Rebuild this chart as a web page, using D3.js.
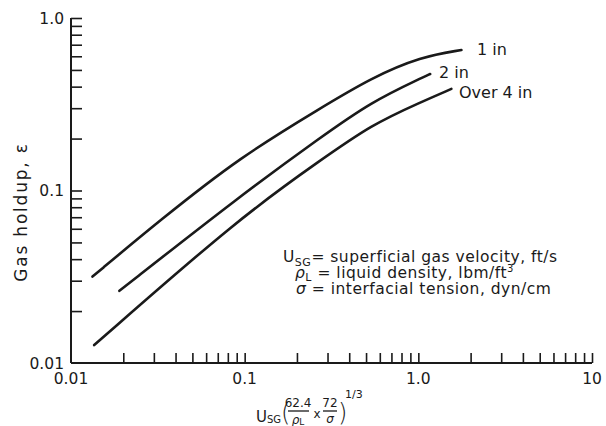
<!DOCTYPE html>
<html>
<head>
<meta charset="utf-8">
<script src="https://cdn.jsdelivr.net/npm/d3@7"></script>
<style>
  html, body { margin: 0; padding: 0; background: #fff; }
  svg text { font-family: "DejaVu Sans", sans-serif; fill: #1a1a1a; }
</style>
</head>
<body>
<svg id="chart" width="606" height="426"></svg>
<script>
// ---- data ----
const seriesNames = ["1 in", "2 in", "Over 4 in"];
const x1in = [0.0133, 0.0327, 0.0948, 0.275, 0.535, 1.04, 1.77];
const y1in = [0.0317, 0.0675, 0.157, 0.301, 0.449, 0.597, 0.652];
const x2in = [0.0190, 0.0948, 0.275, 0.535, 1.04, 1.17];
const y2in = [0.0262, 0.0935, 0.204, 0.326, 0.449, 0.4735];
const x4in = [0.0136, 0.0948, 0.275, 0.535, 1.04, 1.55];
const y4in = [0.0127, 0.0705, 0.150, 0.240, 0.326, 0.388];
const xTickLabels = ["0.01", "0.1", "1.0", "10"];
const xTickValues = [0.01, 0.1, 1, 10];
const yTickLabels = ["0.01", "0.1", "1.0"];
const yTickValues = [0.01, 0.1, 1];

const svg = d3.select("#chart");
const x = d3.scaleLog().domain([0.01, 10]).range([71, 592]);
const y = d3.scaleLog().domain([0.01, 1]).range([363, 18]);
const ink = "#1a1a1a";

// minor tick values
const xMinor = [];
[0.01, 0.1, 1].forEach(d => { for (let k = 1; k <= 9; k++) xMinor.push(d * k); });
xMinor.push(10);
const yMinor = [];
[0.01, 0.1].forEach(d => { for (let k = 1; k <= 9; k++) yMinor.push(d * k); });
yMinor.push(1);

// axes lines + inward ticks via d3 axes
const gx = svg.append("g").attr("transform", `translate(0,${y(0.01)})`)
  .call(d3.axisTop(x).tickValues(xMinor).tickSize(10).tickFormat(""));
const gy = svg.append("g").attr("transform", `translate(${x(0.01)},0)`)
  .call(d3.axisRight(y).tickValues(yMinor).tickSize(11).tickFormat(""));
[gx, gy].forEach(g => {
  g.select(".domain").attr("stroke", ink).attr("stroke-width", 2);
  g.selectAll(".tick line").attr("stroke", ink).attr("stroke-width", 1.6);
});
gy.select(".domain").attr("d", `M0,${y(1)}V${y(0.01)}`);
gx.select(".domain").attr("d", `M${x(0.01)},0H${x(10)}`);
gx.selectAll(".tick").filter(d => d === 0.01).remove();
gy.selectAll(".tick").filter(d => d === 0.01).remove();

// tick labels
svg.append("g").selectAll("text").data(xTickValues).join("text")
  .attr("x", d => x(d)).attr("y", 384)
  .attr("text-anchor", "middle").attr("font-size", 15.5)
  .text((d, i) => xTickLabels[i]);
svg.append("g").selectAll("text").data(yTickValues).join("text")
  .attr("x", 64).attr("y", d => y(d) + 5.5)
  .attr("text-anchor", "end").attr("font-size", 15.5)
  .text((d, i) => yTickLabels[i]);

// curves
const line = d3.line().x(d => x(d[0])).y(d => y(d[1])).curve(d3.curveBasis);
const series = [
  { xs: x1in, ys: y1in },
  { xs: x2in, ys: y2in },
  { xs: x4in, ys: y4in }
];
series.forEach(s => {
  svg.append("path").datum(s.xs.map((v, i) => [v, s.ys[i]]))
    .attr("d", line).attr("fill", "none")
    .attr("stroke", ink).attr("stroke-width", 2.6).attr("stroke-linecap", "round");
});

// curve labels
const labelPos = [[477, 55], [439, 78], [459, 98]];
seriesNames.forEach((n, i) => {
  svg.append("text").attr("x", labelPos[i][0]).attr("y", labelPos[i][1])
    .attr("font-size", 16).text(n);
});

// y-axis title
svg.append("text").attr("transform", "translate(27,212) rotate(-90)")
  .attr("text-anchor", "middle").attr("font-size", 17).attr("letter-spacing", 1.8)
  .text("Gas holdup, \u03b5");

// definitions block
const defs = svg.append("g").attr("font-size", 15.5).attr("letter-spacing", 0.5);
const t1 = defs.append("text").attr("x", 283).attr("y", 262);
t1.append("tspan").text("U");
t1.append("tspan").attr("font-size", 11).attr("dy", 4).text("SG");
t1.append("tspan").attr("dy", -4).text("= superficial gas velocity, ft/s");
const t2 = defs.append("text").attr("x", 295).attr("y", 278);
t2.append("tspan").attr("font-style", "italic").text("\u03c1");
t2.append("tspan").attr("font-size", 11).attr("dy", 3).text("L");
t2.append("tspan").attr("dy", -3).text(" = liquid density, lbm/ft");
t2.append("tspan").attr("font-size", 10).attr("dy", -6).text("3");
const t3 = defs.append("text").attr("x", 296).attr("y", 294);
t3.append("tspan").attr("font-style", "italic").text("\u03c3");
t3.append("tspan").text(" = interfacial tension, dyn/cm");

// x-axis title
const xt = svg.append("g").attr("font-size", 15);
const u = xt.append("text").attr("x", 256).attr("y", 422);
u.append("tspan").text("U");
u.append("tspan").attr("font-size", 10).attr("dy", 1).text("SG");
xt.append("text").attr("x", 281).attr("y", 421).attr("font-size", 24)
  .attr("font-weight", 200).text("(");
xt.append("text").attr("x", 298).attr("y", 407).attr("text-anchor", "middle")
  .attr("font-size", 12).text("62.4");
xt.append("line").attr("x1", 288).attr("x2", 309).attr("y1", 411).attr("y2", 411)
  .attr("stroke", ink).attr("stroke-width", 1.3);
const rho = xt.append("text").attr("x", 298).attr("y", 424).attr("text-anchor", "middle")
  .attr("font-size", 12);
rho.append("tspan").attr("font-style", "italic").text("\u03c1");
rho.append("tspan").attr("font-size", 9).attr("dy", 1).text("L");
xt.append("text").attr("x", 317).attr("y", 418).attr("text-anchor", "middle")
  .attr("font-size", 12).text("x");
xt.append("text").attr("x", 330).attr("y", 407).attr("text-anchor", "middle")
  .attr("font-size", 12).text("72");
xt.append("line").attr("x1", 323).attr("x2", 337).attr("y1", 411).attr("y2", 411)
  .attr("stroke", ink).attr("stroke-width", 1.3);
xt.append("text").attr("x", 330).attr("y", 423).attr("text-anchor", "middle")
  .attr("font-size", 12).attr("font-style", "italic").text("\u03c3");
xt.append("text").attr("x", 338).attr("y", 421).attr("font-size", 24)
  .attr("font-weight", 200).text(")");
xt.append("text").attr("x", 345).attr("y", 398).attr("font-size", 11).text("1/3");
</script>
</body>
</html>
